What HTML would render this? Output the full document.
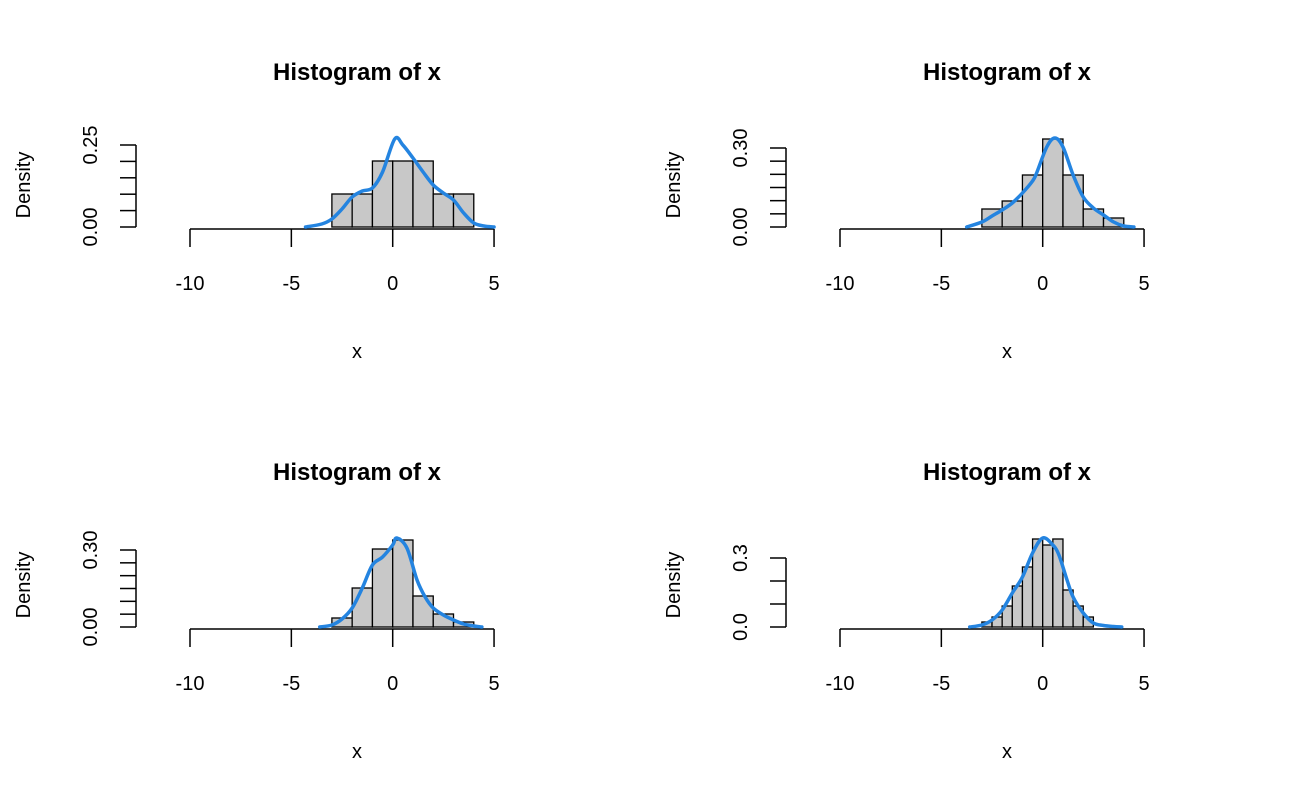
<!DOCTYPE html>
<html><head><meta charset="utf-8">
<style>html,body{margin:0;padding:0;background:#fff}svg{display:block;font-family:"Liberation Sans",sans-serif}</style>
</head><body>
<svg id="s" width="1300" height="800" xmlns="http://www.w3.org/2000/svg"></svg>
<script>
const S=document.getElementById('s');let h='';
const panels=[
 {ox:0,base:227,ax:229,ymax:145,yt:[0,82],yl:[[227,'0.00'],[145,'0.25']],ny:5,bw:1,x0:-3,bars:[33,33,66,66,66,33,33],
  cur:[[-4.3,0],[-3.5,3],[-3,8],[-2.5,18],[-2,30],[-1.5,36],[-1,39],[-0.5,55],[0.1,88],[0.5,82],[1,69],[1.5,55],[2,42],[2.5,34],[3,27],[3.5,14],[4,4],[4.5,1],[5,0]]},
 {ox:650,base:227,ax:229,ymax:148,yt:[0,79],yl:[[227,'0.00'],[148,'0.30']],ny:6,bw:1,x0:-3,bars:[18,26,52,88,52,18,9],
  cur:[[-3.75,0],[-3,5],[-2.5,11],[-2,17],[-1.5,24],[-1,34],[-0.5,46],[-0.3,54],[0.2,80],[0.6,89],[1,80],[1.5,52],[2,30],[2.5,19],[3,12],[3.5,5],[4,1],[4.5,0]]},
 {ox:0,base:627,ax:629,ymax:550,yt:[0,77],yl:[[627,'0.00'],[550,'0.30']],ny:6,bw:1,x0:-3,bars:[9,39,78,87,31,13,5],
  cur:[[-3.6,0],[-3,2],[-2.5,8],[-2,19],[-1.5,39],[-1,62],[-0.5,70],[0,82],[0.2,89],[0.7,79],[1.2,47],[1.6,30],[2,19],[2.5,12],[3,7],[3.5,3],[4,1],[4.4,0]]},
 {ox:650,base:627,ax:629,ymax:558,yt:[0,69],yl:[[627,'0.0'],[558,'0.3']],ny:3,bw:0.5,x0:-3,bars:[5,10,21,41,60,88,82,88,37,21,10],
  cur:[[-3.6,0],[-3,2],[-2.5,7],[-2,17],[-1.5,34],[-1,50],[-0.5,74],[0,89],[0.5,82],[0.8,72],[1.2,47],[1.5,30],[2,14],[2.5,4],[3,1.5],[3.5,0.5],[3.9,0]]}
];
const X=(p,u)=>p.ox+392.7+20.27*u;
for(const p of panels){
 const cx=p.ox+357;
 h+=`<text x="${cx}" y="${p.base-147}" font-size="24" font-weight="bold" text-anchor="middle">Histogram of x</text>`;
 h+=`<text x="${cx}" y="${p.ax+129}" font-size="20" text-anchor="middle">x</text>`;
 h+=`<text transform="translate(${p.ox+30},${p.base-42}) rotate(-90)" font-size="20" text-anchor="middle">Density</text>`;
 // bars
 p.bars.forEach((b,i)=>{const l=X(p,p.x0+i*p.bw),r=X(p,p.x0+(i+1)*p.bw);
  h+=`<rect x="${l}" y="${p.base-b}" width="${r-l}" height="${b}" fill="#c8c8c8" stroke="#000" stroke-width="1.3"/>`;});
 // x axis
 h+=`<line x1="${X(p,-10)}" y1="${p.ax}" x2="${X(p,5)}" y2="${p.ax}" stroke="#000" stroke-width="1.5"/>`;
 for(const t of [-10,-5,0,5]){h+=`<line x1="${X(p,t)}" y1="${p.ax}" x2="${X(p,t)}" y2="${p.ax+18}" stroke="#000" stroke-width="1.5"/>`;
  h+=`<text x="${X(p,t)}" y="${p.ax+61}" font-size="20" text-anchor="middle">${t}</text>`;}
 // y axis
 const yx=p.ox+136;
 h+=`<line x1="${yx}" y1="${p.base}" x2="${yx}" y2="${p.ymax}" stroke="#000" stroke-width="1.5"/>`;
 for(let i=0;i<=p.ny;i++){const y=p.base-(p.base-p.ymax)*i/p.ny;h+=`<line x1="${yx-16}" y1="${y}" x2="${yx}" y2="${y}" stroke="#000" stroke-width="1.5"/>`;}
 for(const [y,t] of p.yl)h+=`<text transform="translate(${p.ox+97},${y}) rotate(-90)" font-size="20" text-anchor="middle">${t}</text>`;
 // curve (catmull-rom)
 const pts=p.cur.map(([u,v])=>[X(p,u),p.base-v]);
 let d=`M${pts[0][0]},${pts[0][1]}`;
 for(let i=0;i<pts.length-1;i++){const p0=pts[Math.max(0,i-1)],p1=pts[i],p2=pts[i+1],p3=pts[Math.min(pts.length-1,i+2)];
  d+=` C${p1[0]+(p2[0]-p0[0])/6},${p1[1]+(p2[1]-p0[1])/6} ${p2[0]-(p3[0]-p1[0])/6},${p2[1]-(p3[1]-p1[1])/6} ${p2[0]},${p2[1]}`;}
 h+=`<path d="${d}" fill="none" stroke="#2484e0" stroke-width="3.5" stroke-linecap="round"/>`;
}
S.innerHTML=h;
</script>
</body></html>
